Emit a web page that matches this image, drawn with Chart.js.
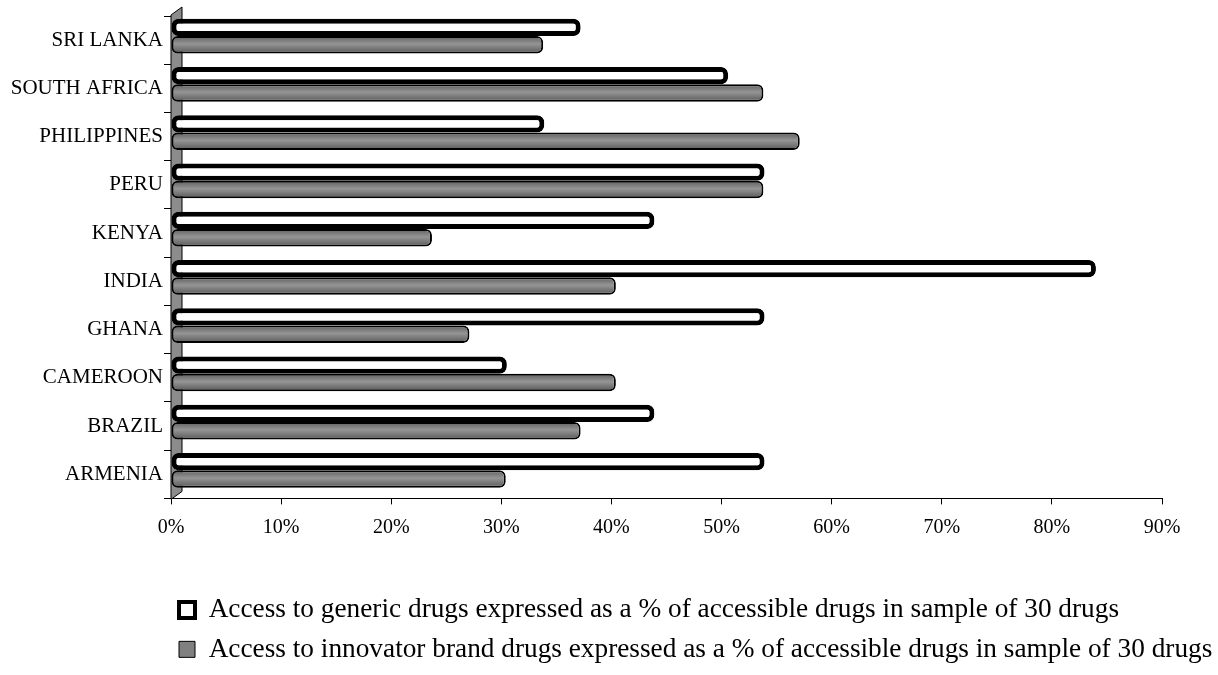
<!DOCTYPE html>
<html>
<head>
<meta charset="utf-8">
<script src="https://cdn.jsdelivr.net/npm/chart.js@4.4.1/dist/chart.umd.min.js"></script>
<style>
  html, body { margin: 0; padding: 0; background: #fff; }
  #wrap { width: 1218px; height: 675px; }
</style>
</head>
<body>
<div id="wrap"><canvas id="chart"></canvas></div>
<script>
// Countries, top to bottom
const countries = ['SRI LANKA', 'SOUTH AFRICA', 'PHILIPPINES', 'PERU', 'KENYA',
                   'INDIA', 'GHANA', 'CAMEROON', 'BRAZIL', 'ARMENIA'];

// Share of accessible drugs (%)
const genericAccess   = [37.2, 50.6, 33.9, 53.9, 43.9, 84.0, 53.9, 30.5, 43.9, 53.9];
const innovatorAccess = [33.8, 53.8, 57.1, 53.8, 23.7, 40.4, 27.1, 40.4, 37.2, 30.4];

const percentTicks = [0, 10, 20, 30, 40, 50, 60, 70, 80, 90];

const seriesNames = [
  'Access to generic drugs expressed as a % of accessible drugs in sample of 30 drugs',
  'Access to innovator brand drugs expressed as a % of accessible drugs in sample of 30 drugs'
];

const CAT_PCT = 0.72;

// Cylinder-like shading for the gray (innovator) bars
function cylinderShade(context) {
  const chart = context.chart;
  const area = chart.chartArea;
  if (!area || context.dataIndex === undefined) return '#808080';
  const yScale = chart.scales.y;
  const center = yScale.getPixelForValue(context.dataIndex);
  const band = (area.bottom - area.top) / countries.length;
  const h = band * CAT_PCT / 2;
  const g = chart.ctx.createLinearGradient(0, center, 0, center + h);
  g.addColorStop(0, '#5e5e5e');
  g.addColorStop(0.45, '#959595');
  g.addColorStop(1, '#585858');
  return g;
}

// Gray side wall of the 3-D plot and a small depth offset for the bars
const sideWall = {
  id: 'sideWall',
  beforeDatasetsDraw(chart) {
    const { ctx, chartArea: a, scales: { x } } = chart;
    const x0 = x.getPixelForValue(0);
    const depth = 11;
    ctx.save();
    ctx.beginPath();
    ctx.moveTo(x0, a.top - 1);
    ctx.lineTo(x0 + depth, a.top - 9);
    ctx.lineTo(x0 + depth, a.bottom - 7);
    ctx.lineTo(x0, a.bottom + 1);
    ctx.closePath();
    ctx.fillStyle = '#8c8c8c';
    ctx.fill();
    ctx.strokeStyle = '#000';
    ctx.lineWidth = 1;
    ctx.stroke();
    ctx.restore();
    ctx.save();
    ctx.translate(0, -4);
  },
  afterDatasetsDraw(chart) {
    chart.ctx.restore();
  }
};

// Legend rows start under the plot area and may run to the canvas edge
const legendIndent = {
  id: 'legendIndent',
  afterLayout(chart) {
    if (chart.legend && chart.chartArea) {
      chart.legend.left = chart.chartArea.left - 4;
      chart.legend.right = chart.width;
    }
  }
};

Chart.defaults.font.family = '"Liberation Serif", "Times New Roman", serif';
Chart.defaults.color = '#000';

new Chart(document.getElementById('chart'), {
  type: 'bar',
  data: {
    labels: countries,
    datasets: [
      {
        label: seriesNames[0],
        data: genericAccess,
        backgroundColor: '#ffffff',
        borderColor: '#000000',
        borderWidth: 5,
        borderSkipped: false,
        borderRadius: 7
      },
      {
        label: seriesNames[1],
        data: innovatorAccess,
        backgroundColor: cylinderShade,
        borderColor: '#000000',
        borderWidth: 2,
        borderSkipped: false,
        borderRadius: 6
      }
    ]
  },
  options: {
    indexAxis: 'y',
    responsive: true,
    maintainAspectRatio: false,
    animation: false,
    layout: { padding: { top: 16, left: 0, right: 56, bottom: 2 } },
    datasets: { bar: { categoryPercentage: CAT_PCT, barPercentage: 1.0 } },
    scales: {
      x: {
        min: 0,
        max: 90,
        afterBuildTicks(scale) {
          scale.ticks = percentTicks.map(v => ({ value: v }));
        },
        afterFit(scale) { scale.height = 86; },
        grid: { drawOnChartArea: false, drawTicks: true, tickLength: 6, color: '#000' },
        border: { display: true, color: '#000', width: 1 },
        ticks: {
          font: { size: 20 },
          padding: 11,
          maxRotation: 0,
          callback: v => v + '%'
        }
      },
      y: {
        afterFit(scale) { scale.width = 171; },
        grid: { drawOnChartArea: false, drawTicks: true, tickLength: 7, color: '#000', offset: true },
        border: { display: false },
        ticks: { font: { size: 21 }, padding: 1 }
      }
    },
    plugins: {
      tooltip: { enabled: false },
      legend: {
        position: 'bottom',
        align: 'start',
        labels: {
          font: { size: 27.3 },
          boxWidth: 16,
          boxHeight: 16,
          padding: 12,
          color: '#000',
          generateLabels(chart) {
            const items = Chart.defaults.plugins.legend.labels.generateLabels(chart);
            items.forEach((it, i) => {
              it.lineWidth = i === 0 ? 4 : 1;
              it.strokeStyle = '#000';
              it.fillStyle = i === 0 ? '#ffffff' : '#808080';
            });
            return items;
          }
        }
      }
    }
  },
  plugins: [sideWall, legendIndent]
});
</script>
</body>
</html>
